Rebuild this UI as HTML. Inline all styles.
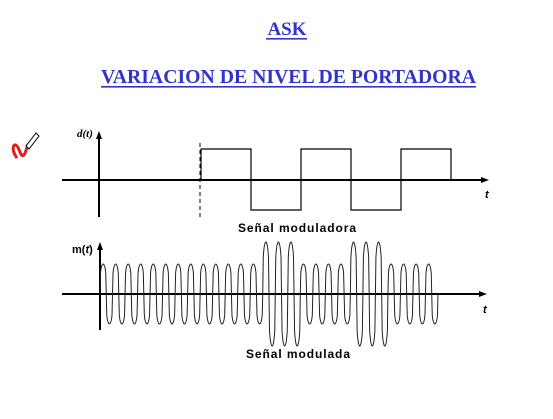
<!DOCTYPE html>
<html><head><meta charset="utf-8"><style>
body{margin:0;background:#fff;width:553px;height:419px;overflow:hidden}
svg{display:block}
</style></head><body>
<svg width="553" height="419" viewBox="0 0 553 419" xmlns="http://www.w3.org/2000/svg">
<g font-family="Liberation Serif, serif" font-weight="bold" fill="#3333cc">
<text x="287" y="35" font-size="19" text-anchor="middle">ASK</text>
<rect x="266" y="38" width="41" height="1.6"/>
<text x="101" y="83" font-size="19.5" textLength="375" lengthAdjust="spacingAndGlyphs">VARIACION DE NIVEL DE PORTADORA</text>
<rect x="101" y="86" width="375" height="1.6"/>
</g>
<g>
<path d="M17 158 C11 150 13 142 17 146 C20 150 21 158 24 155 C26 152 27 147 28 144" fill="none" stroke="#e02020" stroke-width="3"/>
<path d="M26 146 L36 133 L39 136 L29 149 Z" fill="#fff" stroke="#000" stroke-width="1"/>
</g>
<g stroke="#000" fill="none">
<line x1="62" y1="180" x2="482" y2="180" stroke-width="2"/>
<line x1="99" y1="137" x2="99" y2="217" stroke-width="2"/>
<line x1="200" y1="143" x2="200" y2="219" stroke-width="1" stroke-dasharray="4,3"/>
<path id="dwave" stroke-width="1.2"/>
<line x1="62" y1="294" x2="480" y2="294" stroke-width="2"/>
<line x1="100" y1="248" x2="100" y2="330" stroke-width="2"/>
<path id="mwave" stroke-width="1" stroke="#222"/>
</g>
<polygon points="99,131 96,139 102,139" fill="#000"/>
<polygon points="489,180 481,177 481,183" fill="#000"/>
<polygon points="100,242 97,250 103,250" fill="#000"/>
<polygon points="487,294 479,291 479,297" fill="#000"/>
<g font-family="Liberation Sans, sans-serif" font-weight="bold" font-size="11" fill="#000">
<text x="77" y="137" font-style="italic" font-family="Liberation Serif, serif">d(t)</text>
<text x="485" y="198" font-style="italic">t</text>
<text x="238" y="232" font-size="12" textLength="118" lengthAdjust="spacing">Señal moduladora</text>
<text x="72" y="253">m(<tspan font-style="italic">t</tspan>)</text>
<text x="483" y="313" font-style="italic">t</text>
<text x="246" y="358" font-size="12" textLength="104" lengthAdjust="spacing">Señal modulada</text>
</g>
<script>
const bits=[1,0,1,0,1];
const bitStart=201, bitWidth=50, hiY=149, loY=210, midY=180;
const amps=[0,0,0,0,0,0,0,0,0,0,0,0,0,1,1,1,0,0,0,0,1,1,1,0,0,0,0];
const smallAmp=30, largeAmp=52, carStart=100, carEnd=438, axisY=294;
let d='M'+bitStart+' '+midY;
bits.forEach((b,i)=>{const y=b?hiY:loY;const x=bitStart+i*bitWidth;d+=' L'+x+' '+y+' L'+(x+bitWidth)+' '+y;});
d+=' L'+(bitStart+bits.length*bitWidth)+' '+midY;
document.getElementById('dwave').setAttribute('d',d);
const per=(carEnd-carStart)/amps.length;
let m='M'+carStart+' '+axisY;
amps.forEach((a,i)=>{const A=a?largeAmp:smallAmp;
for(let k=1;k<=24;k++){const ph=k/24*2*Math.PI;const s=Math.sin(ph);const v=Math.sign(s)*Math.pow(Math.abs(s),0.25);
m+=' L'+(carStart+i*per+k/24*per).toFixed(2)+' '+(axisY-A*v).toFixed(2);}});
document.getElementById('mwave').setAttribute('d',m);
</script>
</svg>
</body></html>
